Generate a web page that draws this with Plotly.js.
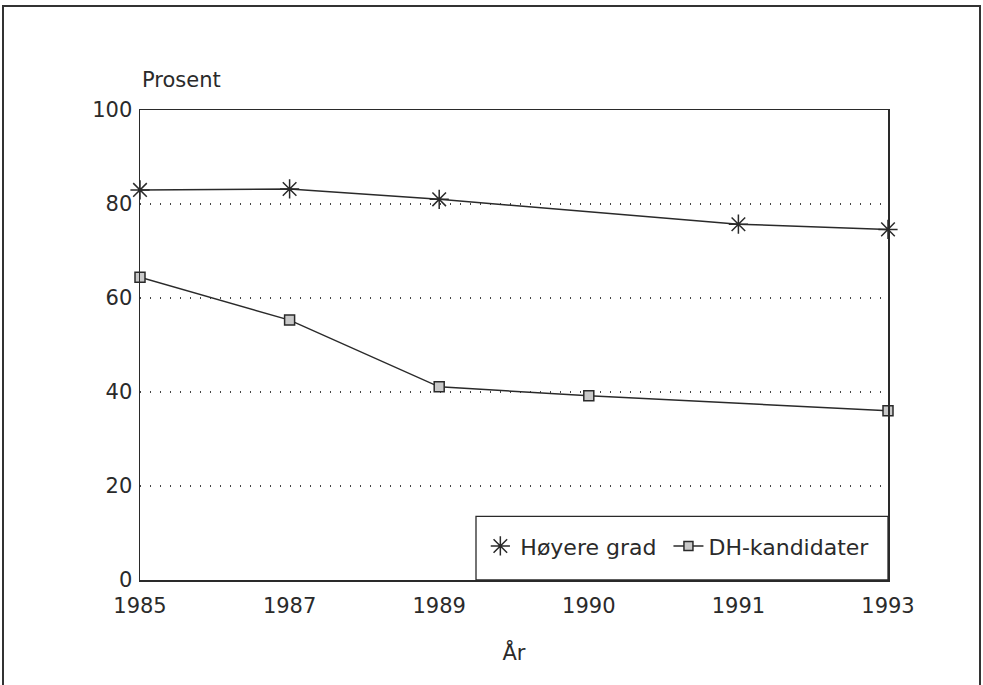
<!DOCTYPE html>
<html>
<head>
<meta charset="utf-8">
<script src="https://cdn.plot.ly/plotly-3.0.1.min.js"></script>
<style>
  html, body { margin: 0; padding: 0; background: #fff; }
  #chart { width: 983px; height: 685px; }
</style>
</head>
<body>
<div id="chart"></div>
<script>
// Data
const years = ["1985", "1987", "1989", "1990", "1991", "1993"];
const hoyereGradYears = ["1985", "1987", "1989", "1991", "1993"];
const hoyereGrad = [83.0, 83.2, 81.0, 75.7, 74.6];
const dhYears = ["1985", "1987", "1989", "1990", "1993"];
const dhKandidater = [64.4, 55.3, 41.1, 39.2, 36.0];
const yTicks = [0, 20, 40, 60, 80, 100];

const FONT = "DejaVu Sans, Liberation Sans, Arial, sans-serif";
const INK = "#2a2a2a";

const traces = [
  {
    x: hoyereGradYears, y: hoyereGrad, type: "scatter", mode: "lines+markers",
    name: "Høyere grad", showlegend: false, cliponaxis: false,
    line: { color: INK, width: 1.5 },
    marker: { symbol: "asterisk-open", size: 16, color: INK, line: { color: INK, width: 1.5 } }
  },
  {
    x: dhYears, y: dhKandidater, type: "scatter", mode: "lines+markers",
    name: "DH-kandidater", showlegend: false, cliponaxis: false,
    line: { color: INK, width: 1.5 },
    marker: { symbol: "square", size: 10, color: "#c9c9c9", line: { color: INK, width: 1.5 } }
  },
  // legend entries
  {
    x: [null], y: [null], type: "scatter", mode: "markers", name: "Høyere grad\u00a0",
    marker: { symbol: "asterisk-open", size: 18, color: INK, line: { color: INK, width: 1.5 } }
  },
  {
    x: [null], y: [null], type: "scatter", mode: "lines+markers", name: "DH-kandidater",
    line: { color: INK, width: 1.5 },
    marker: { symbol: "square", size: 9, color: "#c9c9c9", line: { color: INK, width: 1.5 } }
  }
];

const layout = {
  width: 983, height: 685,
  margin: { l: 140, r: 95, t: 110, b: 105 },
  paper_bgcolor: "#fff", plot_bgcolor: "#fff",
  font: { family: FONT, size: 21, color: INK },
  showlegend: true,
  legend: {
    orientation: "h", x: 0.455, xanchor: "left", y: 0.072, yanchor: "middle",
    bgcolor: "rgba(0,0,0,0)", borderwidth: 0,
    font: { family: FONT, size: 22, color: INK },
    itemsizing: "trace", tracegroupgap: 0
  },
  xaxis: {
    type: "category", categoryorder: "array", categoryarray: years,
    range: [0, 5], showgrid: false, zeroline: false,
    showline: true, linecolor: INK, linewidth: 1.5, mirror: true,
    ticks: "", ticklabelstandoff: 6,
    tickfont: { family: FONT, size: 21, color: INK },
    title: { text: "År", font: { family: FONT, size: 21, color: INK }, standoff: 28 },
    fixedrange: true
  },
  yaxis: {
    range: [0, 100], tickvals: yTicks, ticktext: yTicks.map(String),
    showgrid: true, gridcolor: "#444", gridwidth: 1.3, griddash: "1px,9px",
    zeroline: false, showline: true, linecolor: INK, linewidth: 1.5, mirror: true,
    ticks: "", ticklabelstandoff: 2,
    tickfont: { family: FONT, size: 21, color: INK },
    fixedrange: true
  },
  annotations: [
    { text: "Prosent", xref: "paper", yref: "paper", x: 0, y: 1, xanchor: "left", yanchor: "bottom",
      yshift: 16, showarrow: false, font: { family: FONT, size: 21, color: INK } }
  ],
  shapes: [
    // outer frame
    { type: "rect", xref: "paper", yref: "paper",
      x0: (3 - 140) / 748, x1: (980 - 140) / 748, y0: (579.6 - 700) / 469.6, y1: (579.6 - 6) / 469.6,
      line: { color: "#333", width: 2 }, fillcolor: "rgba(0,0,0,0)", layer: "below" },
    // legend box
    { type: "rect", xref: "paper", yref: "paper",
      x0: (476 - 140) / 748, x1: 1, y0: 0, y1: (579.6 - 516) / 469.6,
      line: { color: INK, width: 1.3 }, fillcolor: "#fff", layer: "above" }
  ]
};

Plotly.newPlot("chart", traces, layout, { displayModeBar: false, staticPlot: true });
</script>
</body>
</html>
